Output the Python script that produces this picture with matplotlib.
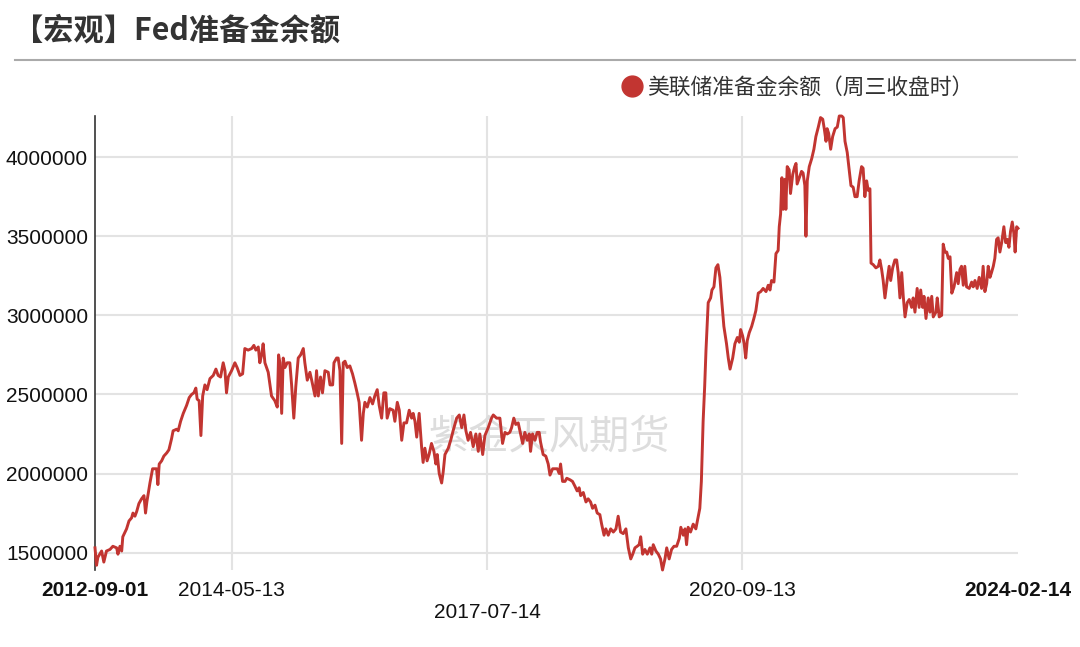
import matplotlib
matplotlib.use('Agg')
import matplotlib.pyplot as plt
from matplotlib.lines import Line2D
import pandas as pd

# weekly reserve balances
dates = [
    '2012-09-01', '2012-09-08', '2012-09-14', '2012-10-01', '2012-10-11', '2012-10-23',
    '2012-11-08', '2012-11-21', '2012-12-08', '2012-12-14', '2012-12-23', '2012-12-31',
    '2013-01-05', '2013-01-22', '2013-02-02', '2013-02-14', '2013-02-20', '2013-03-01',
    '2013-03-09', '2013-03-19', '2013-03-31', '2013-04-11', '2013-04-18', '2013-04-24',
    '2013-05-08', '2013-05-20', '2013-05-31', '2013-06-07', '2013-06-13', '2013-06-19',
    '2013-06-30', '2013-07-10', '2013-07-23', '2013-08-02', '2013-08-14', '2013-08-21',
    '2013-09-06', '2013-09-13', '2013-09-24', '2013-10-06', '2013-10-21', '2013-11-02',
    '2013-11-13', '2013-11-23', '2013-12-02', '2013-12-08', '2013-12-17', '2013-12-25',
    '2014-01-02', '2014-01-12', '2014-01-22', '2014-02-04', '2014-02-19', '2014-03-03',
    '2014-03-13', '2014-03-24', '2014-04-05', '2014-04-13', '2014-04-20', '2014-04-28',
    '2014-05-13', '2014-05-28', '2014-06-07', '2014-06-20', '2014-07-02', '2014-07-12',
    '2014-07-27', '2014-08-12', '2014-08-22', '2014-08-31', '2014-09-11', '2014-09-18',
    '2014-09-26', '2014-10-03', '2014-10-11', '2014-10-26', '2014-11-10', '2014-11-25',
    '2014-12-06', '2014-12-12', '2014-12-18', '2014-12-26', '2015-01-02', '2015-01-10',
    '2015-01-20', '2015-02-01', '2015-02-09', '2015-02-19', '2015-02-28', '2015-03-11',
    '2015-03-22', '2015-04-03', '2015-04-10', '2015-04-21', '2015-05-03', '2015-05-11',
    '2015-05-26', '2015-06-02', '2015-06-10', '2015-06-20', '2015-06-29', '2015-07-10',
    '2015-07-25', '2015-08-02', '2015-08-14', '2015-08-20', '2015-09-01', '2015-09-08',
    '2015-09-16', '2015-09-24', '2015-10-01', '2015-10-09', '2015-10-19', '2015-10-31',
    '2015-11-12', '2015-11-23', '2015-12-03', '2015-12-12', '2015-12-23', '2015-12-31',
    '2016-01-07', '2016-01-18', '2016-01-30', '2016-02-11', '2016-02-21', '2016-03-03',
    '2016-03-12', '2016-03-23', '2016-04-02', '2016-04-11', '2016-04-17', '2016-04-29',
    '2016-05-14', '2016-05-22', '2016-06-02', '2016-06-11', '2016-06-22', '2016-07-02',
    '2016-07-14', '2016-07-26', '2016-08-06', '2016-08-13', '2016-08-21', '2016-08-29',
    '2016-09-09', '2016-09-20', '2016-09-27', '2016-10-05', '2016-10-15', '2016-10-24',
    '2016-11-04', '2016-11-15', '2016-11-24', '2016-11-30', '2016-12-09', '2016-12-20',
    '2016-12-27', '2017-01-04', '2017-01-19', '2017-01-30', '2017-02-10', '2017-02-26',
    '2017-03-10', '2017-03-21', '2017-03-31', '2017-04-09', '2017-04-19', '2017-04-30',
    '2017-05-12', '2017-05-24', '2017-06-04', '2017-06-11', '2017-06-24', '2017-07-04',
    '2017-07-19', '2017-08-03', '2017-08-11', '2017-08-26', '2017-09-10', '2017-09-22',
    '2017-10-03', '2017-10-13', '2017-10-25', '2017-11-02', '2017-11-12', '2017-11-21',
    '2017-12-02', '2017-12-13', '2017-12-22', '2018-01-01', '2018-01-12', '2018-01-21',
    '2018-01-27', '2018-02-05', '2018-02-16', '2018-02-26', '2018-03-07', '2018-03-13',
    '2018-03-25', '2018-04-06', '2018-04-17', '2018-04-25', '2018-05-07', '2018-05-17',
    '2018-05-28', '2018-06-06', '2018-06-12', '2018-06-21', '2018-07-02', '2018-07-10',
    '2018-07-25', '2018-08-05', '2018-08-16', '2018-08-26', '2018-09-04', '2018-09-11',
    '2018-09-23', '2018-10-05', '2018-10-15', '2018-10-26', '2018-11-04', '2018-11-15',
    '2018-11-25', '2018-12-07', '2018-12-15', '2018-12-26', '2019-01-03', '2019-01-14',
    '2019-01-25', '2019-02-06', '2019-02-18', '2019-02-28', '2019-03-11', '2019-03-23',
    '2019-04-04', '2019-04-15', '2019-04-26', '2019-05-05', '2019-05-15', '2019-05-25',
    '2019-06-03', '2019-06-10', '2019-06-19', '2019-06-29', '2019-07-10', '2019-07-22',
    '2019-07-30', '2019-08-06', '2019-08-18', '2019-08-29', '2019-09-08', '2019-09-17',
    '2019-09-28', '2019-10-06', '2019-10-17', '2019-10-28', '2019-11-08', '2019-11-20',
    '2019-12-02', '2019-12-09', '2019-12-20', '2019-12-28', '2020-01-04', '2020-01-11',
    '2020-01-22', '2020-02-03', '2020-02-15', '2020-02-26', '2020-03-04', '2020-03-11',
    '2020-03-19', '2020-03-26', '2020-04-01', '2020-04-11', '2020-04-22', '2020-04-28',
    '2020-05-07', '2020-05-16', '2020-05-25', '2020-06-03', '2020-06-12', '2020-06-21',
    '2020-07-03', '2020-07-11', '2020-07-19', '2020-07-31', '2020-08-10', '2020-08-21',
    '2020-08-30', '2020-09-05', '2020-09-14', '2020-09-21', '2020-09-28', '2020-10-05',
    '2020-10-14', '2020-10-25', '2020-11-04', '2020-11-13', '2020-11-24', '2020-12-05',
    '2020-12-16', '2020-12-29', '2021-01-08', '2021-01-16', '2021-01-23', '2021-02-03',
    '2021-02-12', '2021-02-22', '2021-02-27', '2021-03-05', '2021-03-11', '2021-03-17',
    '2021-03-25', '2021-03-29', '2021-04-04', '2021-04-13', '2021-04-19', '2021-04-29',
    '2021-05-08', '2021-05-14', '2021-05-19', '2021-05-29', '2021-06-08', '2021-06-15',
    '2021-06-23', '2021-06-28', '2021-07-04', '2021-07-13', '2021-07-24', '2021-08-03',
    '2021-08-12', '2021-08-23', '2021-09-02', '2021-09-12', '2021-09-19', '2021-09-27',
    '2021-10-02', '2021-10-09', '2021-10-18', '2021-10-27', '2021-11-07', '2021-11-17',
    '2021-11-26', '2021-12-07', '2021-12-14', '2021-12-22', '2022-01-01', '2022-01-10',
    '2022-01-18', '2022-01-28', '2022-02-05', '2022-02-15', '2022-02-24', '2022-03-07',
    '2022-03-14', '2022-03-22', '2022-03-30', '2022-04-06', '2022-04-14', '2022-04-19',
    '2022-04-29', '2022-05-11', '2022-05-22', '2022-05-29', '2022-06-06', '2022-06-13',
    '2022-06-21', '2022-07-01', '2022-07-10', '2022-07-17', '2022-07-26', '2022-08-05',
    '2022-08-13', '2022-08-20', '2022-08-28', '2022-09-05', '2022-09-12', '2022-09-20',
    '2022-09-30', '2022-10-09', '2022-10-20', '2022-10-27', '2022-11-04', '2022-11-14',
    '2022-11-23', '2022-11-30', '2022-12-09', '2022-12-15', '2022-12-24', '2023-01-03',
    '2023-01-11', '2023-01-19', '2023-01-26', '2023-02-07', '2023-02-13', '2023-02-22',
    '2023-03-05', '2023-03-12', '2023-03-20', '2023-03-28', '2023-04-04', '2023-04-12',
    '2023-04-20', '2023-04-30', '2023-05-12', '2023-05-19', '2023-05-27', '2023-06-03',
    '2023-06-11', '2023-06-18', '2023-06-26', '2023-07-08', '2023-07-19', '2023-07-26',
    '2023-08-03', '2023-08-13', '2023-08-22', '2023-09-02', '2023-09-09', '2023-09-17',
    '2023-09-25', '2023-10-02', '2023-10-10', '2023-10-17', '2023-10-25', '2023-11-01',
    '2023-11-09', '2023-11-16', '2023-11-24', '2023-12-02', '2023-12-12', '2023-12-20',
    '2023-12-27', '2024-01-04', '2024-01-11', '2024-01-19', '2024-01-26', '2024-02-01',
    '2024-02-08', '2024-02-14',
]
reserves = [
    1530000, 1420000, 1470000, 1510000, 1440000, 1510000,
    1520000, 1540000, 1530000, 1490000, 1540000, 1510000,
    1600000, 1650000, 1700000, 1720000, 1750000, 1730000,
    1760000, 1810000, 1840000, 1860000, 1750000, 1820000,
    1940000, 2030000, 2030000, 2030000, 1930000, 2060000,
    2080000, 2110000, 2130000, 2150000, 2220000, 2270000,
    2280000, 2270000, 2330000, 2380000, 2430000, 2480000,
    2500000, 2510000, 2540000, 2470000, 2460000, 2240000,
    2490000, 2560000, 2530000, 2600000, 2620000, 2660000,
    2620000, 2610000, 2700000, 2650000, 2510000, 2610000,
    2650000, 2700000, 2670000, 2620000, 2630000, 2790000,
    2780000, 2790000, 2810000, 2780000, 2800000, 2700000,
    2750000, 2820000, 2700000, 2640000, 2490000, 2460000,
    2420000, 2750000, 2700000, 2380000, 2730000, 2670000,
    2700000, 2700000, 2560000, 2350000, 2550000, 2730000,
    2750000, 2790000, 2700000, 2590000, 2640000, 2590000,
    2490000, 2650000, 2490000, 2610000, 2510000, 2650000,
    2640000, 2560000, 2560000, 2700000, 2730000, 2730000,
    2650000, 2190000, 2700000, 2710000, 2670000, 2680000,
    2630000, 2570000, 2510000, 2450000, 2210000, 2380000,
    2450000, 2420000, 2480000, 2440000, 2490000, 2530000,
    2430000, 2350000, 2510000, 2510000, 2350000, 2410000,
    2400000, 2330000, 2450000, 2400000, 2210000, 2320000,
    2320000, 2400000, 2350000, 2380000, 2330000, 2230000,
    2380000, 2170000, 2070000, 2160000, 2080000, 2120000,
    2190000, 2140000, 2060000, 2120000, 2000000, 1940000,
    2010000, 2120000, 2160000, 2210000, 2270000, 2350000,
    2370000, 2290000, 2370000, 2270000, 2210000, 2260000,
    2170000, 2250000, 2140000, 2250000, 2120000, 2240000,
    2290000, 2350000, 2370000, 2350000, 2350000, 2190000,
    2260000, 2250000, 2260000, 2290000, 2350000, 2310000,
    2320000, 2250000, 2190000, 2260000, 2210000, 2250000,
    2140000, 2250000, 2210000, 2260000, 2260000, 2200000,
    2120000, 2110000, 2060000, 1990000, 2030000, 2030000,
    2030000, 2000000, 2060000, 1950000, 1950000, 1970000,
    1960000, 1950000, 1920000, 1890000, 1910000, 1860000,
    1880000, 1820000, 1840000, 1820000, 1780000, 1800000,
    1750000, 1740000, 1680000, 1610000, 1650000, 1610000,
    1650000, 1630000, 1650000, 1730000, 1630000, 1620000,
    1650000, 1530000, 1460000, 1490000, 1530000, 1540000,
    1550000, 1600000, 1490000, 1520000, 1490000, 1530000,
    1490000, 1550000, 1510000, 1490000, 1460000, 1390000,
    1460000, 1530000, 1460000, 1520000, 1540000, 1540000,
    1590000, 1660000, 1610000, 1650000, 1550000, 1660000,
    1630000, 1680000, 1650000, 1730000, 1780000, 1950000,
    2330000, 2550000, 2780000, 3080000, 3110000, 3160000,
    3180000, 3300000, 3320000, 3240000, 3080000, 2930000,
    2820000, 2730000, 2660000, 2730000, 2820000, 2860000,
    2830000, 2910000, 2870000, 2820000, 2730000, 2840000,
    2890000, 2930000, 2980000, 3030000, 3140000, 3150000,
    3170000, 3150000, 3190000, 3160000, 3220000, 3210000,
    3390000, 3410000, 3560000, 3640000, 3870000, 3670000,
    3860000, 3670000, 3940000, 3920000, 3770000, 3890000,
    3940000, 3960000, 3830000, 3870000, 3910000, 3900000,
    3820000, 3500000, 3850000, 3940000, 3990000, 4050000,
    4130000, 4190000, 4250000, 4240000, 4180000, 4100000,
    4180000, 4150000, 4050000, 4130000, 4180000, 4190000,
    4260000, 4260000, 4250000, 4100000, 4030000, 3920000,
    3820000, 3810000, 3750000, 3750000, 3850000, 3940000,
    3930000, 3750000, 3850000, 3790000, 3800000, 3330000,
    3320000, 3300000, 3310000, 3350000, 3290000, 3220000,
    3110000, 3220000, 3310000, 3220000, 3300000, 3350000,
    3350000, 3270000, 3110000, 3270000, 3120000, 2990000,
    3080000, 3100000, 3050000, 3110000, 3020000, 3170000,
    3050000, 3160000, 3050000, 3120000, 2980000, 3110000,
    3020000, 3120000, 2990000, 3020000, 3110000, 2990000,
    3000000, 3450000, 3400000, 3400000, 3360000, 3370000,
    3140000, 3180000, 3270000, 3200000, 3290000, 3310000,
    3190000, 3310000, 3180000, 3170000, 3210000, 3180000,
    3220000, 3170000, 3240000, 3170000, 3310000, 3150000,
    3200000, 3310000, 3240000, 3270000, 3310000, 3360000,
    3480000, 3490000, 3400000, 3460000, 3560000, 3460000,
    3480000, 3430000, 3530000, 3590000, 3520000, 3400000,
    3560000, 3550000,
]

tick_dates = ['2012-09-01', '2014-05-13', '2017-07-14', '2020-09-13', '2024-02-14']
y_ticks = [1500000, 2000000, 2500000, 3000000, 3500000, 4000000]

title = '【宏观】Fed准备金余额'
series_name = '美联储准备金余额（周三收盘时）'
watermark = '紫金天风期货'

line_color = '#c23531'
cjk = ['Noto Sans CJK SC', 'DejaVu Sans']

plt.rcParams['font.family'] = ['Liberation Sans', 'Noto Sans CJK SC', 'DejaVu Sans']

x = pd.to_datetime(dates)

fig = plt.figure(figsize=(10.8, 6.47), dpi=100)
ax = fig.add_axes([95 / 1080, 1 - 570 / 647, (1018 - 95) / 1080, (570 - 116) / 647])

ax.plot(x, reserves, color=line_color, lw=2.1, clip_on=False, zorder=3)

ax.set_xlim(pd.Timestamp(tick_dates[0]), pd.Timestamp(tick_dates[-1]))
ax.set_ylim(min(reserves), max(reserves))
ax.set_xticks(pd.to_datetime(tick_dates))
ax.set_xticklabels(tick_dates)
ax.set_yticks(y_ticks)
ax.set_yticklabels([str(v) for v in y_ticks])

ax.grid(True, color='#e3e3e3', lw=1.5)
ax.set_axisbelow(True)
for side in ['top', 'right', 'bottom']:
    ax.spines[side].set_visible(False)
ax.spines['left'].set_color('#333333')
ax.spines['left'].set_linewidth(1.2)

ax.tick_params(length=0, labelsize=15, labelcolor='#111111')
ax.tick_params(axis='x', pad=8)
ax.tick_params(axis='y', pad=5)
xticks = ax.xaxis.get_major_ticks()
xlabels = ax.get_xticklabels()
for i in (0, -1):
    xlabels[i].set_fontweight('bold')
    xticks[i].gridline.set_visible(False)
xticks[2].set_pad(24)

# title + separator
fig.text(13 / 1080, 1 - 31 / 647, title, fontsize=21.8, fontweight='bold',
         color='#333333', va='center', family=cjk)
fig.add_artist(Line2D([15 / 1080, 1075 / 1080], [1 - 60 / 647] * 2,
                      color='#aaaaaa', lw=1.5))

# legend
handle = Line2D([], [], color=line_color, marker='o', ls='none', markersize=15)
fig.legend([handle], [series_name], loc='center left',
           bbox_to_anchor=(621 / 1080, 1 - 88 / 647), frameon=False,
           prop={'family': cjk, 'size': 15.7}, labelcolor='#333333',
           handlelength=1.0, handletextpad=0.2, borderpad=0, borderaxespad=0)

# watermark
ax.text(549 / 1080, 1 - 437 / 647, watermark, transform=fig.transFigure,
        fontsize=29, color='#dddddd', ha='center', va='center',
        family=cjk, fontweight='light', zorder=1)

fig.savefig('out.png', dpi=100)
